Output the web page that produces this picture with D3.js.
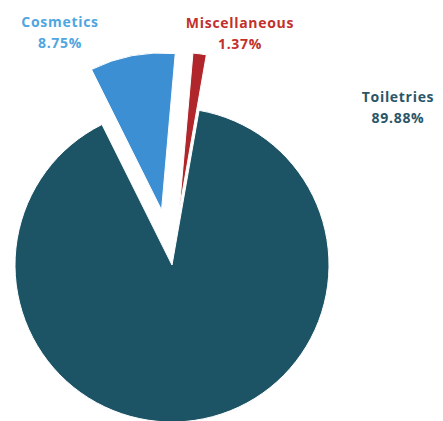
<!DOCTYPE html>
<html>
<head>
<meta charset="utf-8">
<script src="https://cdn.jsdelivr.net/npm/d3@7"></script>
<style>
    html, body { margin: 0; padding: 0; background: #fff; }
    svg { display: block; }
</style>
</head>
<body>
<div id="chart"></div>
<script>
const categories = ['Miscellaneous', 'Toiletries', 'Cosmetics'];
const shares = [1.37, 89.88, 8.75];
const labels = ['1.37%', '89.88%', '8.75%'];

(function () {

    let
        width = 443,
        height = 421,
        cx = 172,
        cy = 265,
        radius = 157,
        start = 5 * Math.PI / 180,
        colours = ['#b0262a', '#1c5466', '#3d8fd3'],
        textColours = ['#c3302b', '#2a5668', '#4fa6e0'],
        explode = [56, 0, 56],
        // label anchor (centre of the first line baseline), relative to pie centre
        labelAt = [[68, -237], [226, -163], [-112, -238]],

        svg = d3
            .select('#chart')
            .append('svg')
            .attr('width', width)
            .attr('height', height),

        pie = d3.pie()
            .sort(null)
            .startAngle(start)
            .endAngle(start + 2 * Math.PI)
            .value(d => d),

        arc = d3.arc()
            .innerRadius(0)
            .outerRadius(radius),

        g = svg.append('g')
            .attr('transform', `translate(${cx},${cy})`);

    let slices = pie(shares);

    slices.forEach(function (s, i) {
        let mid = (s.startAngle + s.endAngle) / 2,
            dx = Math.sin(mid) * explode[i],
            dy = -Math.cos(mid) * explode[i];

        g.append('path')
            .attr('d', arc(s))
            .attr('transform', `translate(${dx},${dy})`)
            .style('fill', colours[i])
            .style('stroke', '#fff')
            .style('stroke-width', 1);
    });

    // data labels
    for (let i = 0; i < categories.length; i++) {
        let t = g.append('text')
            .attr('x', labelAt[i][0])
            .attr('y', labelAt[i][1])
            .attr('text-anchor', 'middle')
            .style('font-family', '"Open Sans", sans-serif')
            .style('font-weight', 700)
            .style('font-size', '14px')
            .style('letter-spacing', '0.7px')
            .style('fill', textColours[i]);

        t.append('tspan')
            .attr('x', labelAt[i][0])
            .text(categories[i]);

        t.append('tspan')
            .attr('x', labelAt[i][0])
            .attr('dy', 21)
            .text(labels[i]);
    }

})();
</script>
</body>
</html>
